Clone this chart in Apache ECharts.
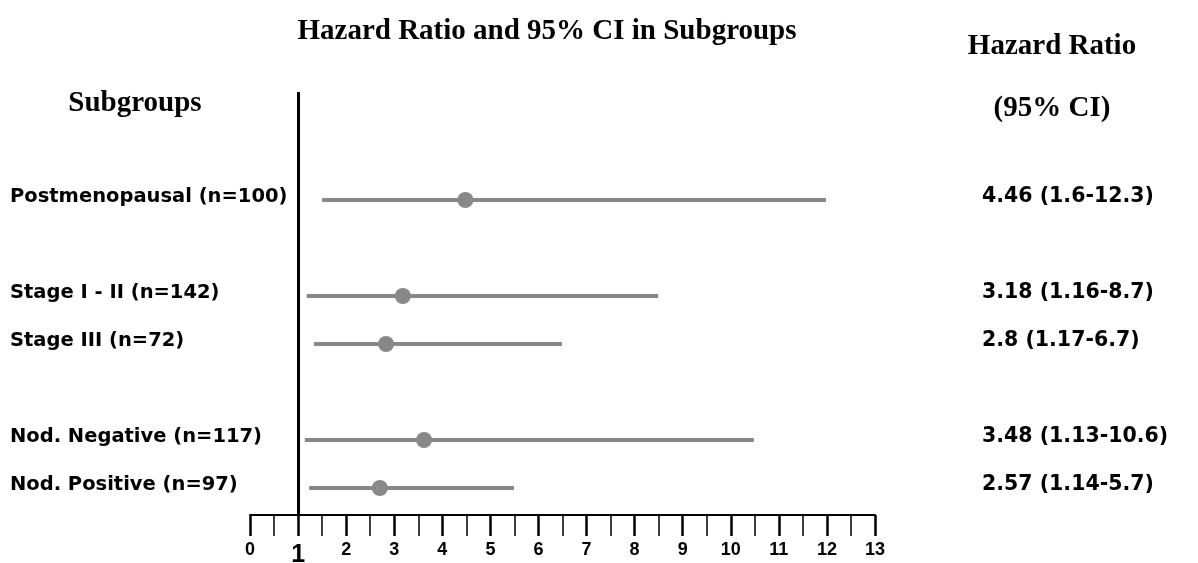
<!DOCTYPE html>
<html><head><meta charset="utf-8">
<script src="https://cdn.jsdelivr.net/npm/echarts@6/dist/echarts.min.js"></script>
<style>html,body{margin:0;padding:0;background:#fff}#c{width:1198px;height:563px}</style>
</head><body><div id="c"></div>
<script>
// Rows (blank strings are spacer rows)
const subgroups = ['Postmenopausal (n=100)', '', 'Stage I - II (n=142)', 'Stage III (n=72)', '', 'Nod. Negative (n=117)', 'Nod. Positive (n=97)'];
const hrText    = ['4.46 (1.6-12.3)', '', '3.18 (1.16-8.7)', '2.8 (1.17-6.7)', '', '3.48 (1.13-10.6)', '2.57 (1.14-5.7)'];
// values as drawn (point estimate, lower, upper)
const estimate = [4.48, null, 3.18, 2.83, null, 3.62, 2.70];
const lower    = [1.50, null, 1.18, 1.33, null, 1.14, 1.23];
const upper    = [11.98, null, 8.49, 6.49, null, 10.48, 5.49];
const xTicks = [0,1,2,3,4,5,6,7,8,9,10,11,12,13];

const rowIdx = subgroups.map((s,i)=>i).filter(i=>estimate[i]!==null);
const fmtRow = arr => v => {
  const k = Math.round(v);
  return (Math.abs(v-k)<1e-6 && arr[k]!==undefined) ? arr[k] : '';
};
const titleFont = {fontFamily:'Liberation Serif', fontWeight:'bold', fontSize:29, color:'#000'};
const hidden = {axisLine:{show:false}, axisTick:{show:false}, splitLine:{show:false}};

const chart = echarts.init(document.getElementById('c'));
chart.setOption({
  animation:false,
  backgroundColor:'#fff',
  title:[
    {text:'Hazard Ratio and 95% CI in Subgroups', left:542, top:12, textAlign:'center', textStyle:titleFont},
    {text:'Hazard Ratio', left:1047, top:27, textAlign:'center', textStyle:titleFont},
    {text:'(95% CI)', left:1047, top:89, textAlign:'center', textStyle:titleFont},
    {text:'Subgroups', left:130, top:84, textAlign:'center', textStyle:titleFont}
  ],
  grid:{left:250, right:323, top:92, bottom:48, containLabel:false, outerBoundsMode:'none'},
  xAxis:{type:'value', min:0, max:13, interval:1,
    axisLine:{show:true, onZero:false, lineStyle:{color:'#000', width:2}},
    axisTick:{show:true, length:21, lineStyle:{color:'#000', width:2.5}},
    minorTick:{show:true, splitNumber:2, length:21, lineStyle:{color:'#000', width:1.5}},
    splitLine:{show:false}, minorSplitLine:{show:false},
    axisLabel:{margin:26, color:'#000', fontFamily:'Liberation Sans', fontWeight:'bold', fontSize:18,
      formatter:v=>{ const k=Math.round(v); if(!xTicks.includes(k)) return ''; return k===1?'{one|1}':String(k);},
      rich:{one:{fontFamily:'Liberation Sans', fontWeight:'bold', fontSize:25, color:'#000', padding:[2,0,0,0]}},
      showMinLabel:true, showMaxLabel:true, hideOverlap:false}
  },
  yAxis:[
    // data axis (hidden)
    Object.assign({type:'value', inverse:true, min:-2.25, max:6.5625, interval:0.0625, position:'left',
      axisLabel:{show:false}}, hidden),
    // row-label axes, shifted up slightly relative to the marks
    Object.assign({type:'value', inverse:true, min:-2.1875, max:6.625, interval:0.0625, position:'left',
      axisLabel:{formatter:fmtRow(subgroups), align:'left', margin:240,
        showMinLabel:false, showMaxLabel:false, hideOverlap:false,
        color:'#000', fontFamily:'DejaVu Sans', fontWeight:'bold', fontSize:19.5}}, hidden),
    Object.assign({type:'value', inverse:true, min:-2.1875, max:6.625, interval:0.0625, position:'right',
      axisLabel:{formatter:fmtRow(hrText), align:'left', margin:107,
        showMinLabel:false, showMaxLabel:false, hideOverlap:false,
        color:'#000', fontFamily:'DejaVu Sans', fontWeight:'bold', fontSize:20.5}}, hidden)
  ],
  series:[
    {type:'custom', yAxisIndex:0, silent:true,
     data: rowIdx.map(i=>[lower[i], upper[i], i]),
     renderItem:(params, api)=>{
       const a=api.coord([api.value(0), api.value(2)]);
       const b=api.coord([api.value(1), api.value(2)]);
       return {type:'line', shape:{x1:a[0], y1:a[1], x2:b[0], y2:b[1]}, style:{stroke:'#888', lineWidth:4}};
     },
     markLine:{silent:true, symbol:'none', label:{show:false},
       lineStyle:{color:'#000', width:3, type:'solid'},
       data:[{xAxis:1}]}
    },
    {type:'scatter', yAxisIndex:0, symbol:'circle', symbolSize:16,
     itemStyle:{color:'#888', opacity:1},
     data: rowIdx.map(i=>[estimate[i], i])}
  ]
});
</script></body></html>
